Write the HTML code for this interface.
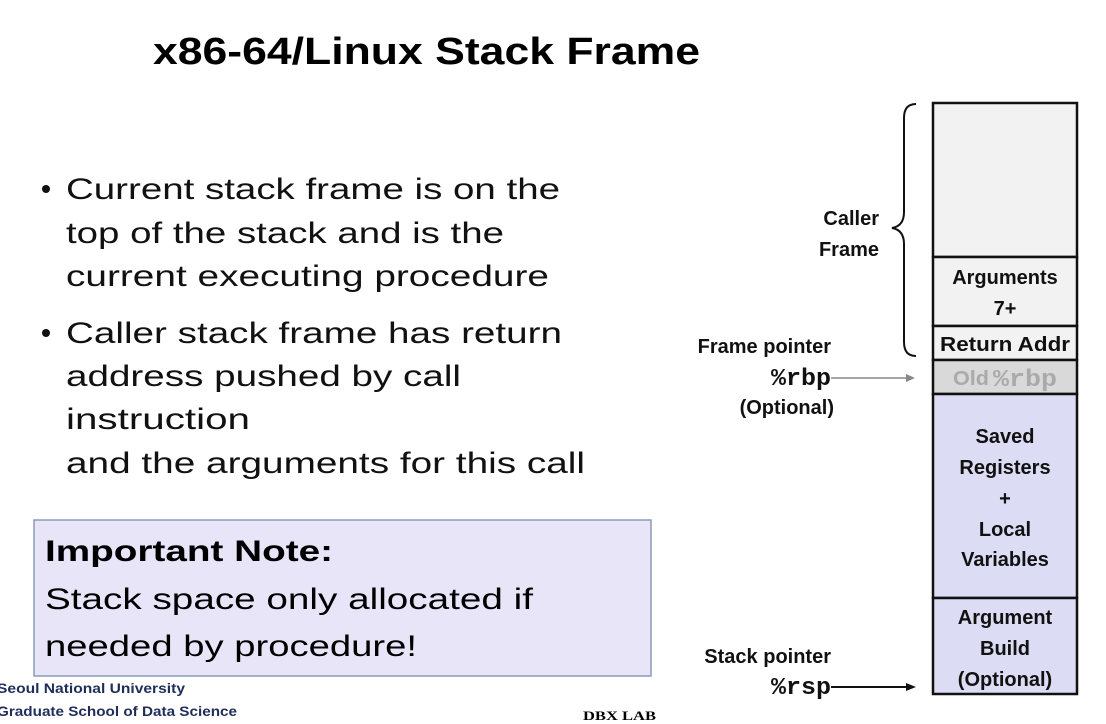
<!DOCTYPE html>
<html><head><meta charset="utf-8"><style>
html,body{margin:0;padding:0;background:#fff;}
svg{display:block;}
text{font-family:"Liberation Sans",sans-serif;}
.b{font-weight:bold;}
.m{font-family:"Liberation Mono",monospace;font-weight:bold;}
</style></head><body>
<svg width="1106" height="724" viewBox="0 0 1106 724" xmlns="http://www.w3.org/2000/svg">
<rect width="1106" height="724" fill="#fff"/>
<text x="153" y="64" class="b" font-size="38" textLength="547" lengthAdjust="spacingAndGlyphs">x86-64/Linux Stack Frame</text>

<g font-size="30" fill="#111">
<circle cx="46" cy="189" r="4" fill="#111"/>
<text x="66" y="199" textLength="494" lengthAdjust="spacingAndGlyphs">Current stack frame is on the</text>
<text x="66" y="243" textLength="438" lengthAdjust="spacingAndGlyphs">top of the stack and is the</text>
<text x="66" y="286" textLength="483" lengthAdjust="spacingAndGlyphs">current executing procedure</text>
<circle cx="46" cy="333" r="4" fill="#111"/>
<text x="66" y="343" textLength="496" lengthAdjust="spacingAndGlyphs">Caller stack frame has return</text>
<text x="66" y="386" textLength="395" lengthAdjust="spacingAndGlyphs">address pushed by call</text>
<text x="66" y="429" textLength="184" lengthAdjust="spacingAndGlyphs">instruction</text>
<text x="66" y="473" textLength="519" lengthAdjust="spacingAndGlyphs">and the arguments for this call</text>
</g>

<rect x="34" y="520" width="617" height="156" fill="#e8e5f8" stroke="#8a9cb8" stroke-width="1.5"/>
<text x="45" y="561" class="b" font-size="30" textLength="288" lengthAdjust="spacingAndGlyphs">Important Note:</text>
<text x="45" y="609" font-size="30" textLength="488" lengthAdjust="spacingAndGlyphs">Stack space only allocated if</text>
<text x="45" y="656" font-size="30" textLength="372" lengthAdjust="spacingAndGlyphs">needed by procedure!</text>

<text x="-3" y="693" class="b" font-size="14" fill="#1f2d5a" textLength="188" lengthAdjust="spacingAndGlyphs">Seoul National University</text>
<text x="-3" y="716" class="b" font-size="14" fill="#1f2d5a" textLength="240" lengthAdjust="spacingAndGlyphs">Graduate School of Data Science</text>
<text x="583" y="720" font-weight="bold" font-size="13" textLength="73" lengthAdjust="spacingAndGlyphs" style="font-family:'Liberation Serif',serif">DBX LAB</text>

<g stroke="#111" stroke-width="2.5">
<rect x="933" y="103" width="144" height="154" fill="#f2f2f2"/>
<rect x="933" y="257" width="144" height="69" fill="#f2f2f2"/>
<rect x="933" y="326" width="144" height="34" fill="#f2f2f2"/>
<rect x="933" y="360" width="144" height="34" fill="#d9d9d9"/>
<rect x="933" y="394" width="144" height="204" fill="#dcdcf4"/>
<rect x="933" y="598" width="144" height="96" fill="#dcdcf4"/>
</g>
<g class="b" font-size="20" text-anchor="middle" fill="#111">
<text x="1005" y="284" class="b">Arguments</text>
<text x="1005" y="315" class="b">7+</text>
<text x="1005" y="351" class="b" textLength="130" lengthAdjust="spacingAndGlyphs">Return Addr</text>
<text x="1005" y="443" class="b">Saved</text>
<text x="1005" y="474" class="b">Registers</text>
<text x="1005" y="505" class="b">+</text>
<text x="1005" y="536" class="b">Local</text>
<text x="1005" y="566" class="b">Variables</text>
<text x="1005" y="624" class="b">Argument</text>
<text x="1005" y="655" class="b">Build</text>
<text x="1005" y="686" class="b">(Optional)</text>
</g>
<text x="953" y="385" class="b" font-size="20" fill="#aaa" textLength="36" lengthAdjust="spacingAndGlyphs">Old</text>
<text x="993" y="386" class="m" font-size="24" fill="#aaa" textLength="64" lengthAdjust="spacingAndGlyphs">%rbp</text>

<path d="M916 104 Q904 104 904 118 L904 212 Q904 226 892 228 Q904 230 904 244 L904 342 Q904 356 916 356" fill="none" stroke="#111" stroke-width="2"/>
<g class="b" font-size="20" text-anchor="end" fill="#111">
<text x="879" y="225" class="b">Caller</text>
<text x="879" y="256" class="b">Frame</text>
<text x="831" y="353" class="b">Frame pointer</text>
<text x="834" y="414" class="b">(Optional)</text>
<text x="831" y="663" class="b">Stack pointer</text>
</g>
<text x="771" y="385" class="m" font-size="24" fill="#111" textLength="60" lengthAdjust="spacingAndGlyphs">%rbp</text>
<text x="771" y="694" class="m" font-size="24" fill="#111" textLength="60" lengthAdjust="spacingAndGlyphs">%rsp</text>
<line x1="831" y1="378" x2="908" y2="378" stroke="#888" stroke-width="1.5"/>
<polygon points="915,378 906,374 906,382" fill="#888"/>
<line x1="831" y1="687" x2="908" y2="687" stroke="#111" stroke-width="2"/>
<polygon points="916,687 906,683 906,691" fill="#111"/>
</svg>
</body></html>
